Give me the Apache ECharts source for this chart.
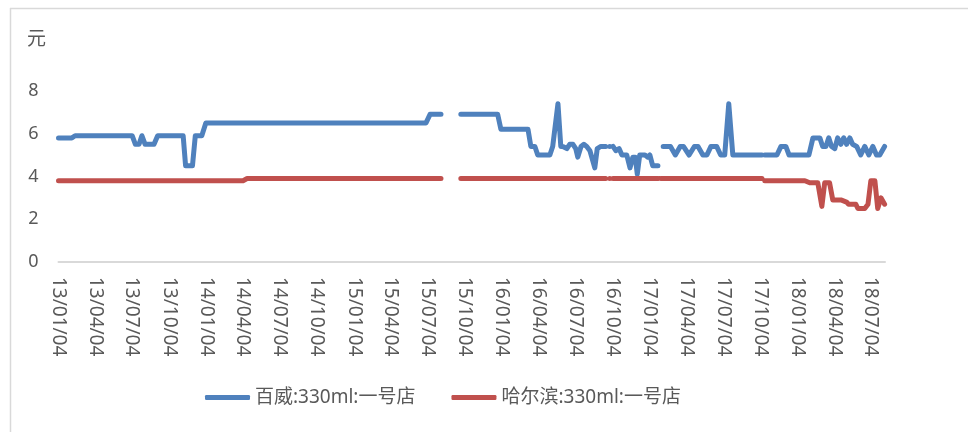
<!DOCTYPE html>
<html>
<head>
<meta charset="utf-8">
<script src="https://cdn.jsdelivr.net/npm/echarts@6/dist/echarts.min.js"></script>
<style>html,body{margin:0;padding:0;background:#fff}#c{width:968px;height:432px}</style>
</head>
<body>
<div id="c"></div>
<script>
// ---- data ----
const tickDates = ['2013-01-04','2013-04-04','2013-07-04','2013-10-04','2014-01-04','2014-04-04','2014-07-04','2014-10-04',
  '2015-01-04','2015-04-04','2015-07-04','2015-10-04','2016-01-04','2016-04-04','2016-07-04','2016-10-04',
  '2017-01-04','2017-04-04','2017-07-04','2017-10-04','2018-01-04','2018-04-04','2018-07-04'];

const blueName = '百威:330ml:一号店';
const blueDates = ['2013-01-04','2013-02-06','2013-02-14','2013-07-05','2013-07-13','2013-07-22','2013-07-29','2013-08-06','2013-08-28','2013-09-06',
  '2013-11-08','2013-11-14','2013-12-01','2013-12-08','2013-12-24','2014-01-03','2015-07-01','2015-07-11','2015-08-07','2015-08-20',
  '2015-09-25','2015-12-25','2016-01-02','2016-03-09','2016-03-16','2016-03-26','2016-04-02','2016-05-02','2016-05-09','2016-05-22',
  '2016-05-29','2016-06-03','2016-06-13','2016-06-20','2016-06-28','2016-07-05','2016-07-10','2016-07-18','2016-07-25','2016-08-01',
  '2016-08-09','2016-08-21','2016-08-27','2016-09-05','2016-09-17','2016-09-21','2016-09-27','2016-10-02','2016-10-05','2016-10-12',
  '2016-10-20','2016-10-27','2016-11-08','2016-11-16','2016-11-23','2016-11-29','2016-12-04','2016-12-10','2016-12-23','2016-12-30',
  '2017-01-04','2017-01-11','2017-01-24','2017-01-29','2017-02-06','2017-02-24','2017-03-08','2017-03-20','2017-03-28','2017-04-11',
  '2017-04-24','2017-05-03','2017-05-15','2017-05-25','2017-06-04','2017-06-18','2017-06-28','2017-07-08','2017-07-18','2017-07-28',
  '2017-10-08','2017-10-11','2017-10-15','2017-11-14','2017-11-24','2017-12-06','2017-12-14','2018-02-01','2018-02-11','2018-02-28',
  '2018-03-07','2018-03-15','2018-03-22','2018-03-29','2018-04-06','2018-04-13','2018-04-21','2018-04-28','2018-05-05','2018-05-13',
  '2018-05-20','2018-05-30','2018-06-09','2018-06-19','2018-06-29','2018-07-09','2018-07-18','2018-07-26','2018-08-07'];
const blueValues = [5.8,5.8,5.9,5.9,5.5,5.5,5.9,5.5,5.5,5.9,
  5.9,4.5,4.5,5.9,5.9,6.5,6.5,6.9,6.9,null,
  6.9,6.9,6.2,6.2,5.4,5.4,5.0,5.0,5.4,7.4,
  5.4,5.4,5.3,5.5,5.5,5.3,4.9,5.4,5.5,5.4,
  5.2,4.4,5.3,5.4,5.4,null,5.4,null,5.4,5.2,
  5.3,5.0,5.0,4.4,4.9,4.9,4.1,5.0,5.0,4.9,
  5.0,4.5,4.5,null,5.4,5.4,5.0,5.4,5.4,5.0,
  5.4,5.4,5.0,5.0,5.4,5.4,5.0,5.0,7.4,5.0,
  5.0,null,5.0,5.0,5.4,5.4,5.0,5.0,5.8,5.8,
  5.4,5.4,5.8,5.4,5.3,5.8,5.5,5.8,5.5,5.8,
  5.5,5.4,5.0,5.4,5.0,5.4,5.0,5.0,5.4];

const redName = '哈尔滨:330ml:一号店';
const redDates = ['2013-01-04','2014-04-05','2014-04-15','2015-08-07','2015-08-20','2015-09-25','2016-09-17','2016-09-21','2016-09-27','2016-10-02',
  '2016-10-05','2017-01-25','2017-01-28','2017-01-31','2017-10-08','2017-10-11','2017-10-15','2018-01-22','2018-02-03','2018-02-23',
  '2018-03-05','2018-03-12','2018-03-24','2018-04-01','2018-04-21','2018-05-05','2018-05-10','2018-05-28','2018-06-02','2018-06-19',
  '2018-06-27','2018-07-04','2018-07-14','2018-07-21','2018-07-29','2018-08-07'];
const redValues = [3.8,3.8,3.9,3.9,null,3.9,3.9,null,3.9,null,
  3.9,3.9,null,3.9,3.9,null,3.8,3.8,3.7,3.7,
  2.6,3.7,3.7,2.9,2.9,2.8,2.7,2.7,2.5,2.5,
  2.7,3.8,3.8,2.5,3.0,2.7];

// ---- helpers ----
function parseD(s){ const p = s.split('-'); return Date.UTC(+p[0], +p[1]-1, +p[2]); }
function pad(n){ return (n<10?'0':'')+n; }
function build(dates, values){
  return dates.map((d,i)=>{
    const v = values[i];
    const item = { value: [parseD(d), v] };
    const prevNull = i>0 && values[i-1]===null;
    const nextNull = i<values.length-1 && values[i+1]===null;
    if (v!==null && prevNull && nextNull){ item.symbol='circle'; item.symbolSize=5; }
    return item;
  });
}

const font = '"Noto Sans","Noto Sans CJK SC",sans-serif';
const BLUE = '#4f81bd', RED = '#c0504d';
const chart = echarts.init(document.getElementById('c'), null, {renderer:'canvas'});
chart.setOption({
  animation:false,
  backgroundColor:'#ffffff',
  textStyle:{fontFamily:font},
  grid:{left:58.5, right:83, top:48, bottom:170, containLabel:false},
  xAxis:{
    type:'value',
    min:parseD('2013-01-04'), max:parseD('2018-08-08'),
    axisLine:{show:true, lineStyle:{color:'#d9d9d9', width:2}},
    axisTick:{show:false},
    splitLine:{show:false},
    axisLabel:{
      customValues: tickDates.map(parseD),
      rotate:-90, margin:15, color:'#595959', fontSize:19, fontFamily:font,
      showMinLabel:true, showMaxLabel:true,
      formatter:function(v){ const d=new Date(v); return pad(d.getUTCFullYear()%100)+'/'+pad(d.getUTCMonth()+1)+'/'+pad(d.getUTCDate()); }
    }
  },
  yAxis:{
    type:'value', min:0, max:10, interval:2,
    axisLine:{show:false}, axisTick:{show:false}, splitLine:{show:false},
    axisLabel:{color:'#595959', fontSize:18, margin:20, fontFamily:font,
      formatter:function(v){ return v===10?'':String(v); }}
  },
  legend:{
    left:205, top:388, padding:0, itemWidth:45, itemHeight:5, itemGap:36,
    textStyle:{color:'#595959', fontSize:19, fontFamily:font},
    data:[{name:blueName, icon:'roundRect', itemStyle:{color:BLUE}}, {name:redName, icon:'roundRect', itemStyle:{color:RED}}]
  },
  graphic:[
    {type:'line', shape:{x1:10,y1:8.5,x2:968,y2:8.5}, style:{stroke:'#d9d9d9', lineWidth:1.5}},
    {type:'line', shape:{x1:10.5,y1:8,x2:10.5,y2:432}, style:{stroke:'#d9d9d9', lineWidth:1.5}},
    {type:'text', left:27, top:30, style:{text:'元', fill:'#595959', font:'19px '+font}}
  ],
  series:[
    {name:blueName, type:'line', data:build(blueDates, blueValues), symbol:'none', connectNulls:false,
      color:BLUE, lineStyle:{width:5, color:BLUE, cap:'round', join:'round'}, itemStyle:{color:BLUE}},
    {name:redName, type:'line', data:build(redDates, redValues), symbol:'none', connectNulls:false,
      color:RED, lineStyle:{width:5, color:RED, cap:'round', join:'round'}, itemStyle:{color:RED}}
  ]
});
</script>
</body>
</html>
